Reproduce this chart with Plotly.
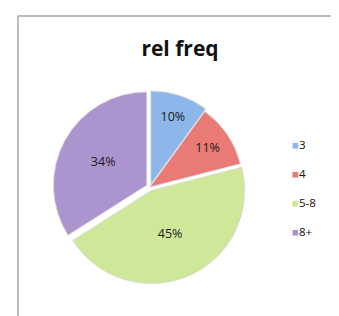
import plotly.graph_objects as go

categories = ["3", "4", "5-8", "8+"]
values = [10, 11, 45, 34]
colors = ["#8DB7EA", "#EA7A76", "#CFE798", "#AC94CF"]
title_text = "rel freq"

W, H = 339, 316
FONT = "Open Sans, Liberation Sans, sans-serif"
fig = go.Figure()

cx, cy, half = 142, 179, 97
fig.add_trace(go.Pie(
    labels=categories, values=values, sort=False, direction="clockwise",
    rotation=0, pull=[0.03, 0.0, 0.04, 0.04],
    marker=dict(colors=colors, line=dict(color="#d8d8d8", width=0.8)),
    texttemplate="%{percent:.0%}", textposition="inside",
    insidetextorientation="horizontal",
    textfont=dict(family=FONT, size=12.5, color="#1a1a1a"),
    showlegend=False, hoverinfo="label+percent",
    domain=dict(x=[(cx - half) / W, (cx + half) / W],
                y=[1 - (cy + half) / H, 1 - (cy - half) / H]),
))

for c, col in zip(categories, colors):
    fig.add_trace(go.Scatter(
        x=[None], y=[None], mode="markers", legendgroup=c,
        name='<span style="color:%s">\u25A0</span>%s' % (col, c),
        marker=dict(symbol="square", size=1, color="rgba(0,0,0,0)"),
    ))

fig.update_layout(
    width=W, height=H, margin=dict(l=0, r=0, t=0, b=0),
    paper_bgcolor="white", plot_bgcolor="white",
    xaxis=dict(visible=False), yaxis=dict(visible=False),
    title=dict(text="<b>" + title_text + "</b>", x=172 / W, xanchor="center",
               y=1 - 41 / H, yanchor="middle",
               font=dict(family=FONT, size=21, color="#111")),
    legend=dict(x=244 / W, xanchor="left", y=1 - 122 / H, yanchor="top",
                font=dict(family=FONT, size=11.5, color="#111"),
                tracegroupgap=10, itemwidth=30, bgcolor="rgba(0,0,0,0)"),
    shapes=[
        dict(type="line", xref="paper", yref="paper", x0=10 / W, x1=1.0,
             y0=1 - 8 / H, y1=1 - 8 / H, line=dict(color="#bdbdbd", width=2)),
        dict(type="line", xref="paper", yref="paper", x0=10 / W, x1=10 / W,
             y0=0, y1=1 - 8 / H, line=dict(color="#bdbdbd", width=2)),
    ],
)

fig.write_html("out.html")
